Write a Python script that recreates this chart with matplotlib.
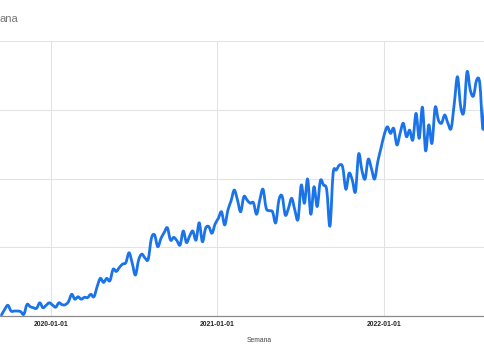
import matplotlib
matplotlib.use("Agg")
import matplotlib.pyplot as plt
import matplotlib.dates as mdates
from matplotlib.path import Path
from matplotlib.patches import PathPatch
import numpy as np
import pandas as pd

start_week = "2019-09-15"
values = [
    0.4, 2.4, 3.9, 1.8, 1.8, 1.8, 1.6, 0.6, 4.2, 3.4,
    3.0, 2.8, 4.8, 3.0, 3.9, 4.8, 4.0, 3.2, 4.8, 4.1,
    4.1, 5.2, 7.9, 6.1, 7.0, 6.1, 6.8, 6.7, 7.9, 7.0,
    10.7, 13.7, 12.2, 13.7, 12.8, 17.0, 16.2, 17.7, 18.9, 19.4,
    23.0, 19.2, 14.9, 20.4, 22.5, 21.1, 20.6, 28.2, 29.5, 25.2,
    28.2, 30.3, 32.1, 27.6, 28.6, 27.4, 25.8, 30.9, 26.7, 29.1,
    30.9, 27.6, 33.9, 27.0, 31.9, 32.5, 30.1, 33.5, 35.5, 37.9,
    33.1, 38.5, 41.9, 45.8, 42.2, 37.9, 43.4, 42.2, 41.0, 41.2,
    37.0, 42.2, 46.1, 39.2, 38.3, 37.9, 33.9, 42.2, 43.6, 36.7,
    39.2, 42.8, 38.5, 35.2, 47.6, 41.0, 49.8, 37.0, 47.0, 39.8,
    49.2, 47.6, 45.8, 32.7, 51.9, 53.1, 54.9, 54.1, 46.1, 51.9,
    49.5, 45.2, 58.9, 53.1, 49.8, 57.0, 53.7, 49.8, 56.1, 61.0,
    65.8, 68.8, 66.4, 68.2, 62.2, 66.4, 70.1, 65.2, 67.6, 64.0,
    73.7, 64.6, 75.9, 60.1, 69.5, 62.8, 75.9, 71.3, 70.1, 73.1,
    70.1, 68.2, 77.3, 87.0, 76.1, 74.3, 88.8, 82.2, 80.0, 85.8,
    84.6, 67.9, 81.0,
]
weeks = pd.date_range(start_week, periods=len(values), freq="7D")
year_ticks = ["2020-01-01", "2021-01-01", "2022-01-01"]
y_grid = [0, 25, 50, 75, 100]
x_label = "Semana"
title_fragment = "ana"

W, H = 485, 360
fig = plt.figure(figsize=(W / 100, H / 100), dpi=100)
ax = fig.add_axes([0, (H - 316) / H, 1, (316 - 41) / H])

x0 = pd.Timestamp("2020-01-01") - pd.Timedelta(days=111.3)
x1 = pd.Timestamp("2022-01-01") + pd.Timedelta(days=222.4)
ax.set_xlim(x0, x1)
ax.set_ylim(0, 100)

# smooth curve through the data points (like the "function" curve type)
xs = mdates.date2num(weeks.to_pydatetime())
ys = np.asarray(values, dtype=float)
pts = np.column_stack([xs, ys])
verts = [pts[0]]
codes = [Path.MOVETO]
n = len(pts)
for i in range(n - 1):
    p0 = pts[i - 1] if i > 0 else pts[i]
    p1 = pts[i]
    p2 = pts[i + 1]
    p3 = pts[i + 2] if i + 2 < n else pts[i + 1]
    c1 = p1 + (p2 - p0) / 6.0
    c2 = p2 - (p3 - p1) / 6.0
    verts += [c1, c2, p2]
    codes += [Path.CURVE4] * 3
path = Path(verts, codes)
patch = PathPatch(path, facecolor="none", edgecolor="#1a73e8", lw=2.0,
                  joinstyle="round", capstyle="round", zorder=3)
ax.add_patch(patch)

ax.set_yticks(y_grid)
ax.set_xticks(pd.to_datetime(year_ticks))
ax.set_xticklabels(year_ticks, fontfamily="Liberation Sans", fontweight="bold",
                   fontsize=4.9, color="#222222")
ax.tick_params(axis="x", length=0, pad=3.5)
ax.tick_params(axis="y", length=0, labelleft=False)
ax.grid(True, color="#e3e3e3", lw=0.75, zorder=0)
for s in ["top", "left", "right"]:
    ax.spines[s].set_visible(False)
ax.spines["bottom"].set_color("#8a8a8a")
ax.spines["bottom"].set_linewidth(0.9)
ax.spines["bottom"].set_zorder(4)

fig.text(259 / W, 1 - 340 / H, x_label, ha="center", va="center",
         fontfamily="Liberation Sans", fontsize=4.9, color="#444444")
fig.text(0 / W, 1 - 19 / H, title_fragment, ha="left", va="center",
         fontfamily="Liberation Sans", fontsize=8, color="#757575")

fig.savefig("out.png", dpi=100)
